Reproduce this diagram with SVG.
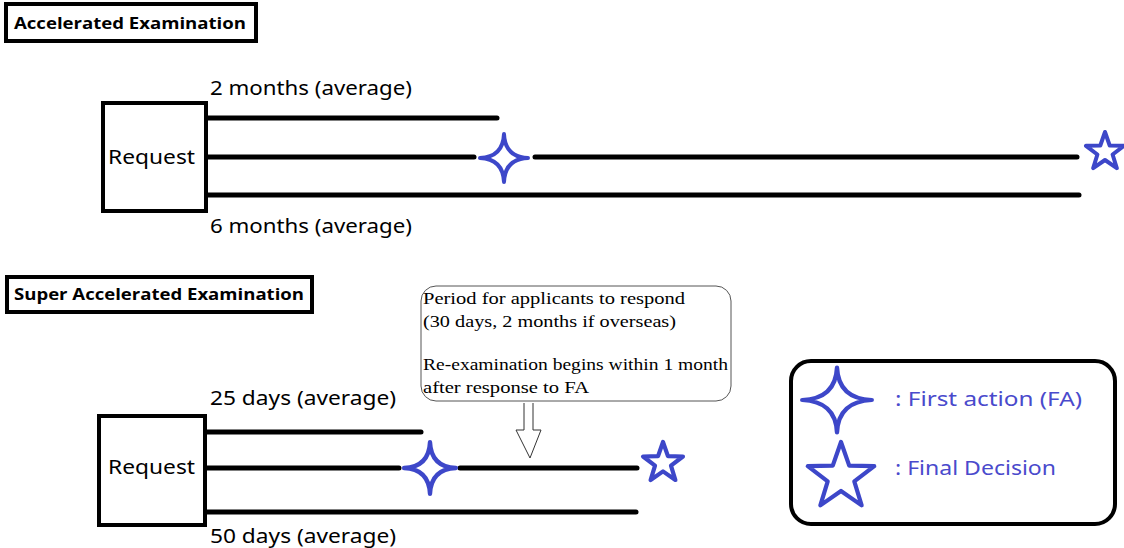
<svg xmlns="http://www.w3.org/2000/svg" width="1124" height="548" viewBox="0 0 1124 548">
<style>
.title{font-family:"Open Sans","Liberation Sans",sans-serif;font-weight:bold;font-size:16px;fill:#000}
.tbox{fill:#fff;stroke:#000;stroke-width:4}
.req{fill:#fff;stroke:#000;stroke-width:4}
.lbl{font-family:"Noto Sans","Liberation Sans",sans-serif;font-size:19px;fill:#000}
.ln{stroke:#000;stroke-width:5;stroke-linecap:round;fill:none}
.star{fill:#fff;stroke:#3d47c9;stroke-width:4;stroke-linejoin:round}
.call{font-family:"Liberation Serif",serif;font-size:16px;fill:#000}
.leg{font-family:"Noto Sans","Liberation Sans",sans-serif;font-size:19px;fill:#4a4acc}
</style>
<defs>
<path id="s4" d="M0,-24 Q1,-1 24,0 Q1,1 0,24 Q-1,1 -24,0 Q-1,-1 0,-24 Z"/>
<path id="s5" d="M0,-20 L4.7,-6.5 L19,-6.2 L7.6,2.5 L11.8,16.2 L0,8 L-11.8,16.2 L-7.6,2.5 L-19,-6.2 L-4.7,-6.5 Z"/>
</defs>
<g id="title1"><rect class="tbox" x="6" y="4" width="250" height="37"/><text class="title" x="14" y="29" textLength="232" lengthAdjust="spacingAndGlyphs">Accelerated Examination</text></g>
<g id="title2"><rect class="tbox" x="7" y="277" width="305" height="35"/><text class="title" x="14" y="300" textLength="290" lengthAdjust="spacingAndGlyphs">Super Accelerated Examination</text></g>
<g id="connectors">
<line class="ln" x1="207" y1="118" x2="497" y2="118"/>
<line class="ln" x1="207" y1="157" x2="474" y2="157"/>
<line class="ln" x1="535" y1="157" x2="1077" y2="157"/>
<line class="ln" x1="207" y1="195" x2="1079" y2="195"/>
<line class="ln" x1="207" y1="432" x2="421" y2="432"/>
<line class="ln" x1="207" y1="468" x2="399" y2="468"/>
<line class="ln" x1="460" y1="468" x2="637" y2="468"/>
<line class="ln" x1="207" y1="512" x2="636" y2="512"/>
<path d="M524,403 L524,430 L516,430 L530,458 L541,430 L533,430 L533,403" fill="#fff" stroke="#333" stroke-width="1"/>
</g>
<g id="request1"><rect class="req" x="103" y="103" width="103" height="108"/><text class="lbl" x="108" y="164" textLength="87" lengthAdjust="spacingAndGlyphs">Request</text></g>
<g id="label2m"><text class="lbl" x="210" y="95" textLength="202" lengthAdjust="spacingAndGlyphs">2 months (average)</text></g>
<g id="label6m"><text class="lbl" x="210" y="233" textLength="202" lengthAdjust="spacingAndGlyphs">6 months (average)</text></g>
<g id="fa1"><use href="#s4" class="star" transform="translate(504,158)"/></g>
<g id="fd1"><use href="#s5" class="star" transform="translate(1105,152)"/></g>
<g id="request2"><rect class="req" x="99" y="416" width="106" height="109"/><text class="lbl" x="108" y="474" textLength="87" lengthAdjust="spacingAndGlyphs">Request</text></g>
<g id="label25"><text class="lbl" x="210" y="405" textLength="186" lengthAdjust="spacingAndGlyphs">25 days (average)</text></g>
<g id="label50"><text class="lbl" x="210" y="543" textLength="186" lengthAdjust="spacingAndGlyphs">50 days (average)</text></g>
<g id="fa2"><use href="#s4" class="star" transform="translate(430,468) scale(1.08)"/></g>
<g id="fd2"><use href="#s5" class="star" transform="translate(663,463) scale(1.05)"/></g>
<g id="callout"><rect x="421" y="286" width="310" height="115" rx="15" fill="#fff" stroke="#555" stroke-width="1"/>
<text class="call" x="423" y="304" textLength="262" lengthAdjust="spacingAndGlyphs">Period for applicants to respond</text>
<text class="call" x="423" y="327" textLength="253" lengthAdjust="spacingAndGlyphs">(30 days, 2 months if overseas)</text>
<text class="call" x="423" y="370" textLength="305" lengthAdjust="spacingAndGlyphs">Re-examination begins within 1 month</text>
<text class="call" x="423" y="393" textLength="166" lengthAdjust="spacingAndGlyphs">after response to FA</text>
</g>
<g id="legend"><rect x="791" y="361" width="324" height="163" rx="20" fill="#fff" stroke="#000" stroke-width="4"/>
<use href="#s4" class="star" transform="translate(837,400) scale(1.45,1.35)" style="stroke-width:3"/>
<use href="#s5" class="star" transform="translate(841,477) scale(1.75)" style="stroke-width:2.4"/>
<text class="leg" x="895" y="406" textLength="187" lengthAdjust="spacingAndGlyphs">: First action (FA)</text>
<text class="leg" x="895" y="475" textLength="161" lengthAdjust="spacingAndGlyphs">: Final Decision</text>
</g>
</svg>
